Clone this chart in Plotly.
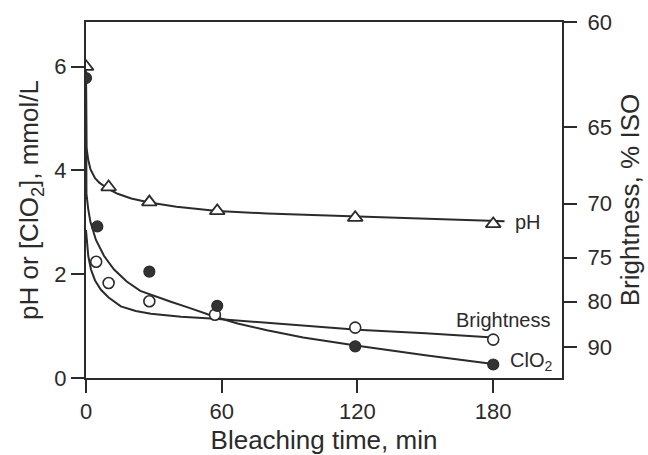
import plotly.graph_objects as go

# ---- data ----
time_ph = [0, 10, 28, 58, 119, 180]
ph_vals = [6.0, 3.68, 3.39, 3.22, 3.09, 2.97]

time_clo2 = [0, 5, 28, 58, 119, 180]
clo2_vals = [5.78, 2.92, 2.05, 1.39, 0.61, 0.26]

time_bright = [4.5, 10, 28, 57, 119, 180]
bright_vals = [2.24, 1.83, 1.48, 1.22, 0.97, 0.74]   # plotted on left scale

# fitted curves
ph_fit_t = [0, 0.2, 1, 2, 4, 6, 8, 10, 14, 20, 28, 40, 58, 80, 100, 120, 150, 185]
ph_fit_y = [6.0, 4.45, 4.2, 4.02, 3.85, 3.76, 3.70, 3.64, 3.55, 3.46, 3.38, 3.30, 3.22, 3.17, 3.14, 3.11, 3.06, 3.02]

clo2_fit_t = [0, 0.2, 1, 2, 4.4, 8, 12.4, 18, 24, 30, 37.5, 45, 57, 67, 80, 96, 120, 150, 180]
clo2_fit_y = [5.78, 3.55, 3.25, 3.0, 2.66, 2.35, 2.09, 1.86, 1.68, 1.58, 1.47, 1.36, 1.18, 1.05, 0.92, 0.78, 0.62, 0.44, 0.27]

bright_fit_t = [0, 1, 2.2, 4, 6.6, 10, 15.4, 22, 28.7, 42, 57, 80, 96, 120, 150, 180]
bright_fit_y = [2.85, 2.35, 2.09, 1.88, 1.70, 1.55, 1.38, 1.29, 1.24, 1.18, 1.14, 1.06, 1.0, 0.93, 0.86, 0.78]

x_ticks = [0, 60, 120, 180]
left_ticks = [0, 2, 4, 6]
right_tick_text = ["60", "65", "70", "75", "80", "90"]
right_tick_pos = [6.86, 4.84, 3.36, 2.32, 1.47, 0.59]

INK = "#2b2b2b"
FONT = "Liberation Sans, Arial, Helvetica, sans-serif"

fig = go.Figure()
for t, y in [(ph_fit_t, ph_fit_y), (clo2_fit_t, clo2_fit_y), (bright_fit_t, bright_fit_y)]:
    fig.add_trace(go.Scatter(x=t, y=y, mode="lines", line=dict(color=INK, width=2),
                             showlegend=False, hoverinfo="skip"))

fig.add_trace(go.Scatter(x=time_ph, y=ph_vals, mode="markers", name="pH", showlegend=False,
                         marker=dict(symbol="triangle-up", size=13, color="white",
                                     line=dict(color=INK, width=1.8))))
fig.add_trace(go.Scatter(x=time_bright, y=bright_vals, mode="markers", name="Brightness", showlegend=False,
                         marker=dict(symbol="circle", size=11, color="white",
                                     line=dict(color=INK, width=1.6))))
fig.add_trace(go.Scatter(x=time_clo2, y=clo2_vals, mode="markers", name="ClO2", showlegend=False,
                         marker=dict(symbol="circle", size=11, color="#333333",
                                     line=dict(color=INK, width=1.2))))
# invisible trace to activate right axis
fig.add_trace(go.Scatter(x=[0], y=[0], yaxis="y2", mode="markers", marker=dict(opacity=0),
                         showlegend=False, hoverinfo="skip"))

fig.add_annotation(x=188.8, y=3.01, text="pH", showarrow=False, xanchor="left",
                   font=dict(size=20, color=INK, family=FONT))
fig.add_annotation(x=162.5, y=1.11, text="Brightness", showarrow=False, xanchor="left",
                   font=dict(size=20, color=INK, family=FONT))
fig.add_annotation(x=186.6, y=0.32, text="ClO<sub>2</sub>", showarrow=False, xanchor="left",
                   font=dict(size=20, color=INK, family=FONT))

axis_common = dict(showgrid=False, zeroline=False, showline=True, linecolor=INK, linewidth=2,
                   ticks="outside", ticklen=13, tickwidth=2, tickcolor=INK, automargin=False,
                   tickfont=dict(size=22, color=INK, family=FONT))

fig.update_layout(
    width=648, height=455,
    margin=dict(l=86, r=86, t=22, b=77),
    paper_bgcolor="white", plot_bgcolor="white",
    font=dict(family=FONT, color=INK),
    xaxis=dict(range=[0, 210.4], tickvals=x_ticks, mirror=True,
               title=dict(text="Bleaching time, min", font=dict(size=26, family=FONT, color=INK), standoff=12),
               **axis_common),
    yaxis=dict(range=[0, 6.86], tickvals=left_ticks,
               title=dict(text="pH or [ClO<sub>2</sub>], mmol/L", font=dict(size=26, family=FONT, color=INK), standoff=8),
               **axis_common),
    yaxis2=dict(range=[0, 6.86], overlaying="y", side="right", tickvals=right_tick_pos,
                ticktext=right_tick_text, ticklabelstandoff=6,
                title=dict(text="Brightness, % ISO", font=dict(size=26, family=FONT, color=INK), standoff=10),
                **axis_common),
)

fig.write_html("out.html")
